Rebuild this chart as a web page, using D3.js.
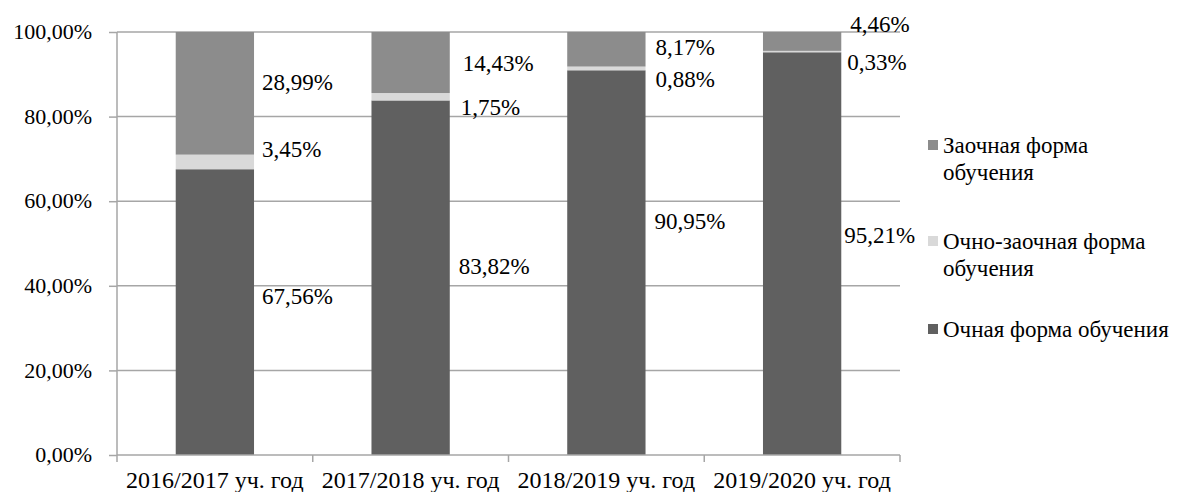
<!DOCTYPE html>
<html><head><meta charset="utf-8">
<script src="https://cdn.jsdelivr.net/npm/d3@7"></script>
<style>
html,body{margin:0;padding:0;background:#fff;}
svg text{font-family:"Liberation Serif","Times New Roman",serif;fill:#000;}
</style></head>
<body><svg id="c" width="1182" height="492"></svg>
<script>
const categories = ["2016/2017 уч. год","2017/2018 уч. год","2018/2019 уч. год","2019/2020 уч. год"];
const ochnaya = [67.56, 83.82, 90.95, 95.21];
const ochnoZaochnaya = [3.45, 1.75, 0.88, 0.33];
const zaochnaya = [28.99, 14.43, 8.17, 4.46];
const yTicks = [0,20,40,60,80,100];
const seriesNames = ["Очная форма обучения","Очно-заочная форма обучения","Заочная форма обучения"];

// label anchors (data units) as placed in the reference
const labelAnchors = {
  ochnaya: [37.6, 44.6, 55.3, 52.0],
  ochnoZaochnaya: [72.2, 82.1, 88.7, 92.8],
  zaochnaya: [88.0, 92.6, 96.3, 101.9]
};
const labelDx = {
  ochnaya: [8, 9, 9, 3],
  ochnoZaochnaya: [8, 11, 10, 6],
  zaochnaya: [8, 13, 10, 9]
};

const colors = {ochnaya:"#606060", ochnoZaochnaya:"#d9d9d9", zaochnaya:"#8c8c8c"};
const keys = ["ochnaya","ochnoZaochnaya","zaochnaya"];
const seriesData = {ochnaya, ochnoZaochnaya, zaochnaya};
const table = categories.map((c,i)=>({cat:c, ochnaya:ochnaya[i], ochnoZaochnaya:ochnoZaochnaya[i], zaochnaya:zaochnaya[i]}));

const svg = d3.select("#c");
const pL = 117, pR = 900, pT = 32, pB = 455;
const x = d3.scaleBand().domain(categories).range([pL,pR]).paddingInner(0.6).paddingOuter(0.3);
const xb = d3.scaleBand().domain(categories).range([pL,pR]).padding(0);
const y = d3.scaleLinear().domain([0,100]).range([pB,pT]);
const fmt = v => d3.format(".2f")(v).replace(".",",") + "%";

// gridlines
svg.append("g").selectAll("line").data(yTicks.filter(d=>d>0)).join("line")
  .attr("x1",pL).attr("x2",pR).attr("y1",d=>y(d)).attr("y2",d=>y(d))
  .attr("stroke","#a6a6a6").attr("stroke-width",1.5);

// bars
const stack = d3.stack().keys(keys)(table);
svg.append("g").selectAll("g").data(stack).join("g")
  .attr("fill",d=>colors[d.key])
  .selectAll("rect").data(d=>d).join("rect")
  .attr("x",d=>x(d.data.cat)).attr("width",x.bandwidth())
  .attr("y",d=>y(d[1])).attr("height",d=>y(d[0])-y(d[1]));

// y axis
const ya = svg.append("g").attr("transform",`translate(${pL},0)`)
  .call(d3.axisLeft(y).tickValues(yTicks).tickSize(8).tickPadding(17).tickFormat(fmt));
ya.select(".domain").attr("stroke","#a6a6a6").attr("stroke-width",1.5).attr("d",`M0,${pT}V${pB}`);
ya.selectAll(".tick line").attr("stroke","#a6a6a6").attr("stroke-width",1.5);
ya.selectAll("text").attr("font-size",22).attr("font-family","Liberation Serif").attr("fill","#000").attr("dy","0.3em");

// x axis
const xa = svg.append("g").attr("transform",`translate(0,${pB})`);
xa.append("line").attr("x1",pL).attr("x2",pR).attr("stroke","#a6a6a6").attr("stroke-width",1.5);
const bounds = categories.map(c=>xb(c)).concat([pR]);
xa.selectAll("line.t").data(bounds).join("line").attr("class","t")
  .attr("x1",d=>d).attr("x2",d=>d).attr("y1",0).attr("y2",7)
  .attr("stroke","#a6a6a6").attr("stroke-width",1.5);
xa.selectAll("text").data(categories).join("text")
  .attr("x",d=>xb(d)+xb.bandwidth()/2).attr("y",33)
  .attr("text-anchor","middle").attr("font-size",24).text(d=>d);

// data labels
keys.forEach(k=>{
  svg.append("g").selectAll("text").data(categories).join("text")
    .attr("x",(d,i)=>x(d)+x.bandwidth()+labelDx[k][i])
    .attr("y",(d,i)=>y(labelAnchors[k][i]))
    .attr("dy","0.33em").attr("font-size",23)
    .text((d,i)=>fmt(seriesData[k][i]));
});

// legend
const legendItems = [
  {key:"zaochnaya", lines:["Заочная форма","обучения"], y:145},
  {key:"ochnoZaochnaya", lines:["Очно-заочная форма","обучения"], y:241},
  {key:"ochnaya", lines:["Очная форма обучения"], y:329}
];
const lg = svg.append("g");
legendItems.forEach(it=>{
  lg.append("rect").attr("x",928).attr("y",it.y-5).attr("width",10).attr("height",10).attr("fill",colors[it.key]);
  const t = lg.append("text").attr("x",943).attr("y",it.y).attr("font-size",23);
  it.lines.forEach((l,j)=>t.append("tspan").attr("x",943).attr("dy",j===0?"0.33em":"27px").text(l));
});
</script></body></html>
